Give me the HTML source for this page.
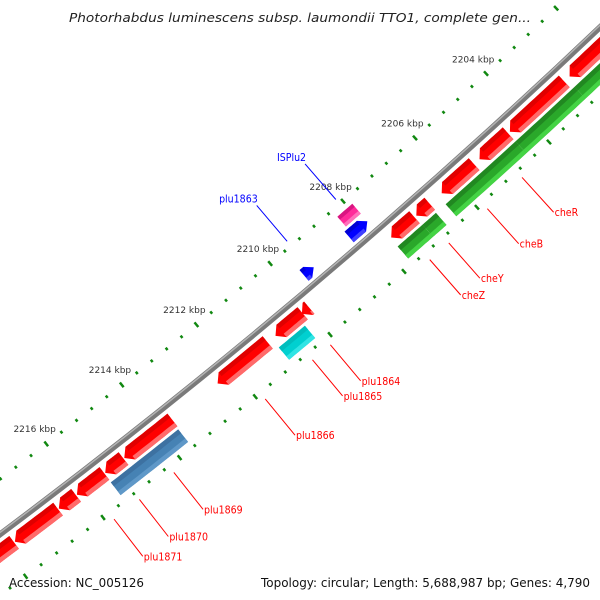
<!DOCTYPE html>
<html><head><meta charset="utf-8">
<style>html,body{margin:0;padding:0;background:#fff;width:600px;height:600px;overflow:hidden;}svg{display:block;overflow:hidden;}</style>
</head><body>
<svg id="map" width="600" height="600" viewBox="0 0 600 600" xmlns="http://www.w3.org/2000/svg">
<rect width="600" height="600" fill="#fff"/>
<g id="backbone-g"></g>
<g id="ticks"></g>
<g id="features"></g>
<g id="labels"></g>
<text x="300" y="22" text-anchor="middle" font-family="DejaVu Sans, sans-serif" font-style="italic" font-size="12.5" fill="#222" textLength="462" lengthAdjust="spacingAndGlyphs">Photorhabdus luminescens subsp. laumondii TTO1, complete gen...</text>
<text x="9" y="587" font-family="DejaVu Sans, sans-serif" font-size="12.5" fill="#111" textLength="135" lengthAdjust="spacingAndGlyphs">Accession: NC_005126</text>
<text x="590" y="587" text-anchor="end" font-family="DejaVu Sans, sans-serif" font-size="12.5" fill="#111" textLength="329" lengthAdjust="spacingAndGlyphs">Topology: circular; Length: 5,688,987 bp; Genes: 4,790</text>
</svg>
<script>
// ---- data ----
const geneNames  = ["g1","g2","g3","g4","g5","g6","plu1864","plu1865","plu1866","g10","g11","g12","g13","g14","g15",
                    "gA","gB","cheR","gX","gY","cyan1865","plu1869","ISPlu2","magenta1","plu1863"];
const geneStart  = [2201.2,2202.92,2204.5,2205.45,2206.68,2207.1,2209.97,2210.15,2211.09,2213.63,2214.92,2215.42,2216.16,2216.63,2217.77,
                    2201.0,2202.84,2204.5,2206.71,2207.08,2210.28,2213.66,2207.89,2207.89,2209.36];
const geneEnd    = [2202.77,2204.45,2205.30,2206.35,2207.05,2207.74,2210.17,2210.88,2212.43,2214.90,2215.40,2216.14,2216.61,2217.75,2219.5,
                    2202.84,2204.5,2206.44,2207.08,2207.76,2210.98,2215.43,2208.39,2208.30,2209.62];
const geneRing   = ["red","red","red","red","red","red","red","red","red","red","red","red","red","red","red",
                    "green","green","green","green","green","cyan","steel","blue","magenta","blue"];
const geneArrow  = [1,1,1,1,1,1,1,1,1,1,1,1,1,1,0, 0,0,0,0,0,0,0, -1,0,-1];
const labelNames = ["cheR","cheB","cheY","cheZ","plu1864","plu1865","plu1866","plu1869","plu1870","plu1871"];
const labelKbp   = [2204.9,2205.86,2206.92,2207.44,2210.13,2210.61,2211.87,2214.28,2215.18,2215.84];
const innerLabelNames = ["ISPlu2","plu1863"];
const innerLabelKbp   = [2208.09,2209.43];
const tickMajor = [2200,2202,2204,2206,2208,2210,2212,2214,2216,2218,2220];
const tickLabels = ["2200 kbp","2202 kbp","2204 kbp","2206 kbp","2208 kbp","2210 kbp","2212 kbp","2214 kbp","2216 kbp","2218 kbp","2220 kbp"];

// ---- geometry ----
const CX=-3992, CY=-4798, R=6661, TH0=49.90, DEG_PER_KBP=0.415;
const NS="http://www.w3.org/2000/svg";
function ang(k){return (TH0+(k-2210)*DEG_PER_KBP)*Math.PI/180;}
function pt(k,off){const a=ang(k);return [CX+(R+off)*Math.cos(a),CY+(R+off)*Math.sin(a)];}
function mk(tag,attrs,parent){const e=document.createElementNS(NS,tag);for(const a in attrs)e.setAttribute(a,attrs[a]);parent.appendChild(e);return e;}

const rings={red:[7,23],green:[26,42],cyan:[26,42],steel:[26,42],blue:[-20,-6],magenta:[-36,-23]};
const cols={red:["#d80000","#ff0000","#ff6a6a"],green:["#1f7f1f","#2aa82a","#44d444"],cyan:["#00b8b8","#00d0d0","#30e4e4"],
            steel:["#3b6d9c","#4682b4","#5f98c8"],blue:["#0000c8","#0000ff","#4040ff"],magenta:["#d0107a","#ff2a9a","#ff70bb"]};

// backbone
const bb=document.getElementById('backbone-g');
let c1=mk('circle',{cx:CX,cy:CY,r:R,fill:'none',stroke:'#7a7a7a','stroke-width':6},bb);


let c2=mk('circle',{cx:CX,cy:CY,r:R-1.5,fill:'none',stroke:'#b4b4b4','stroke-width':1.5},bb);



// ticks
const tg=document.getElementById('ticks');
for(let i=0;i<tickMajor.length;i++){
  const k=tickMajor[i];
  [[-47,-41],[46,52]].forEach(function(o){
    const a=pt(k,o[0]),b=pt(k,o[1]);
    const l=mk('line',{x1:a[0],y1:a[1],x2:b[0],y2:b[1],stroke:'#118811','stroke-width':2.5},tg);
    
    
  });
  const p=pt(k,-63);
  const t=mk('text',{x:p[0],y:p[1]+3,'text-anchor':'middle','font-family':'DejaVu Sans, sans-serif','font-size':'9',fill:'#333'},tg);
  t.textContent=tickLabels[i];
  
  
  for(let m=1;m<5;m++){
    const km=k+m*0.4;
    [[-45.5,-42.5],[47.5,50.5]].forEach(function(o){
      const a=pt(km,o[0]),b=pt(km,o[1]);
      const d=mk('line',{x1:a[0],y1:a[1],x2:b[0],y2:b[1],stroke:'#118811','stroke-width':2.5},tg);
      
      
    });
  }
}

// features
const fg=document.getElementById('features');
function band(s,e,o0,o1,arrow,tipLen){
  const pts=[];const n=10;
  let s2=s,e2=e;
  if(arrow===1)e2=Math.max(s,e-tipLen);
  if(arrow===-1)s2=Math.min(e,s+tipLen);
  for(let i=0;i<=n;i++){pts.push(pt(s2+(e2-s2)*i/n,o0));}
  if(arrow===1)pts.push(pt(e,(o0+o1)/2));
  for(let i=n;i>=0;i--){pts.push(pt(s2+(e2-s2)*i/n,o1));}
  if(arrow===-1)pts.push(pt(s,(o0+o1)/2));
  return pts.map(p=>p[0].toFixed(1)+','+p[1].toFixed(1)).join(' ');
}
for(let i=0;i<geneNames.length;i++){
  const ring=geneRing[i],r=rings[ring],c=cols[ring];
  const s=geneStart[i],e=geneEnd[i],ar=geneArrow[i];
  const tip=Math.min(0.16,(e-s));
  const o0=r[0],o1=r[1],w=o1-o0;
  const g=mk('g',{},fg);
  
  
  mk('polygon',{points:band(s,e,o0,o1,ar,tip),fill:c[1]},g);
  mk('polygon',{points:band(s+(ar===-1?tip:0),e-(ar===1?tip:0),o0,o0+w*0.3,0,0),fill:c[0],opacity:0.8},g);
  mk('polygon',{points:band(s+(ar===-1?tip:0),e-(ar===1?tip:0),o1-w*0.28,o1,0,0),fill:c[2]},g);
}

// labels (outer, red)
const lg=document.getElementById('labels');
for(let i=0;i<labelNames.length;i++){
  const a=pt(labelKbp[i],57),b=pt(labelKbp[i],104);
  const l=mk('line',{x1:a[0],y1:a[1],x2:b[0],y2:b[1],stroke:'#ff0000','stroke-width':1},lg);
  
  
  const t=mk('text',{x:b[0]+1,y:b[1]+4,'font-family':'DejaVu Sans Condensed, DejaVu Sans, sans-serif','font-size':'10.5',fill:'#ff0000'},lg);
  t.textContent=labelNames[i];
  
  
}
for(let i=0;i<innerLabelNames.length;i++){
  const a=pt(innerLabelKbp[i],-50),b=pt(innerLabelKbp[i],-97);
  const l=mk('line',{x1:a[0],y1:a[1],x2:b[0],y2:b[1],stroke:'#0000ff','stroke-width':1},lg);
  
  
  const t=mk('text',{x:b[0]+1,y:b[1]-3,'text-anchor':'end','font-family':'DejaVu Sans Condensed, DejaVu Sans, sans-serif','font-size':'10.5',fill:'#0000ff'},lg);
  t.textContent=innerLabelNames[i];
  
  
}
</script>
</body></html>
